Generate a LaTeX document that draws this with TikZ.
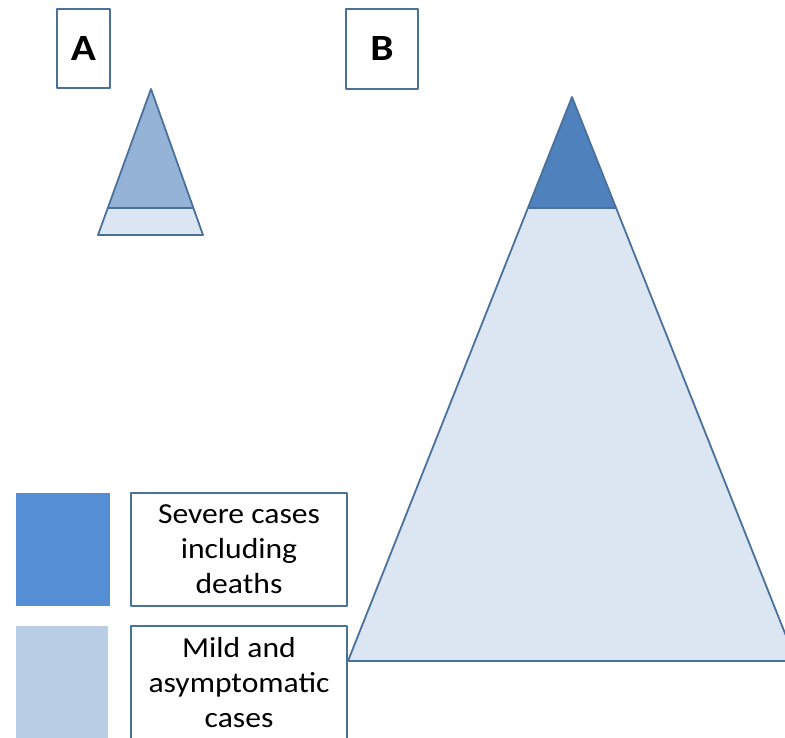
\documentclass[tikz,border=0pt]{standalone}
\usepackage{fontspec}
\setmainfont{Carlito}
\newfontfamily\lblfont[FakeStretch=1.09]{Carlito}
\newfontfamily\letfont[FakeStretch=1.12]{Carlito}
\definecolor{lineblue}{HTML}{4A719C}
\definecolor{topA}{HTML}{95B3D7}
\definecolor{lowA}{HTML}{DCE6F2}
\definecolor{topB}{HTML}{4F81BD}
\definecolor{lowB}{HTML}{DCE6F2}
\definecolor{legdark}{HTML}{558ED5}
\definecolor{leglight}{HTML}{B9CDE5}
\begin{document}
\begin{tikzpicture}[x=1pt,y=-1pt,line join=round,
  edge/.style={draw=lineblue,line width=1.8pt},
  lbl/.style={draw=lineblue,line width=1.8pt,fill=white,minimum width=216pt,minimum height=113pt,align=center,font=\lblfont\fontsize{29}{35}\selectfont,inner sep=0pt},
  letter/.style={draw=lineblue,line width=1.8pt,fill=white,font=\letfont\fontsize{37}{37}\selectfont\bfseries,inner sep=0pt},
  swatch/.style={inner sep=0pt,draw=none}]
\useasboundingbox (0,0) rectangle (785,737);
\clip (0,0) rectangle (785,737);
% letter boxes
\node[letter,minimum width=53pt,minimum height=79pt] (la) at (83.5,48.5) {A};
\node[letter,minimum width=72pt,minimum height=80pt] (lb) at (382,49) {B};
% triangle A
\coordinate (aT) at (151,89);
\coordinate (aL) at (98,235);
\coordinate (aR) at (203,235);
\coordinate (aSL) at (107.8,208);
\coordinate (aSR) at (193.4,208);
\fill[topA] (aT) -- (aSR) -- (aSL) -- cycle;
\fill[lowA] (aSL) -- (aSR) -- (aR) -- (aL) -- cycle;
\draw[edge] (aT) -- (aR) -- (aL) -- cycle;
\draw[edge] (aSL) -- (aSR);
% legend
\node[swatch,fill=legdark,minimum width=94pt,minimum height=113pt] (sd) at (63,549.5) {};
\node[swatch,fill=leglight,minimum width=92pt,minimum height=114pt] (sl) at (62,683) {};
\node[lbl] (t1) at (239,549.5) {Severe cases\\including\\deaths};
\node[lbl,minimum height=114pt] (t2) at (239,683) {Mild and\\asymptomatic\\cases};
% triangle B
\coordinate (bT) at (572,97);
\coordinate (bL) at (348,661);
\coordinate (bR) at (796,661);
\coordinate (bSL) at (527.9,208);
\coordinate (bSR) at (616.1,208);
\fill[topB] (bT) -- (bSR) -- (bSL) -- cycle;
\fill[lowB] (bSL) -- (bSR) -- (bR) -- (bL) -- cycle;
\draw[edge] (bT) -- (bR) -- (bL) -- cycle;
\draw[edge] (bSL) -- (bSR);
\end{tikzpicture}
\end{document}
